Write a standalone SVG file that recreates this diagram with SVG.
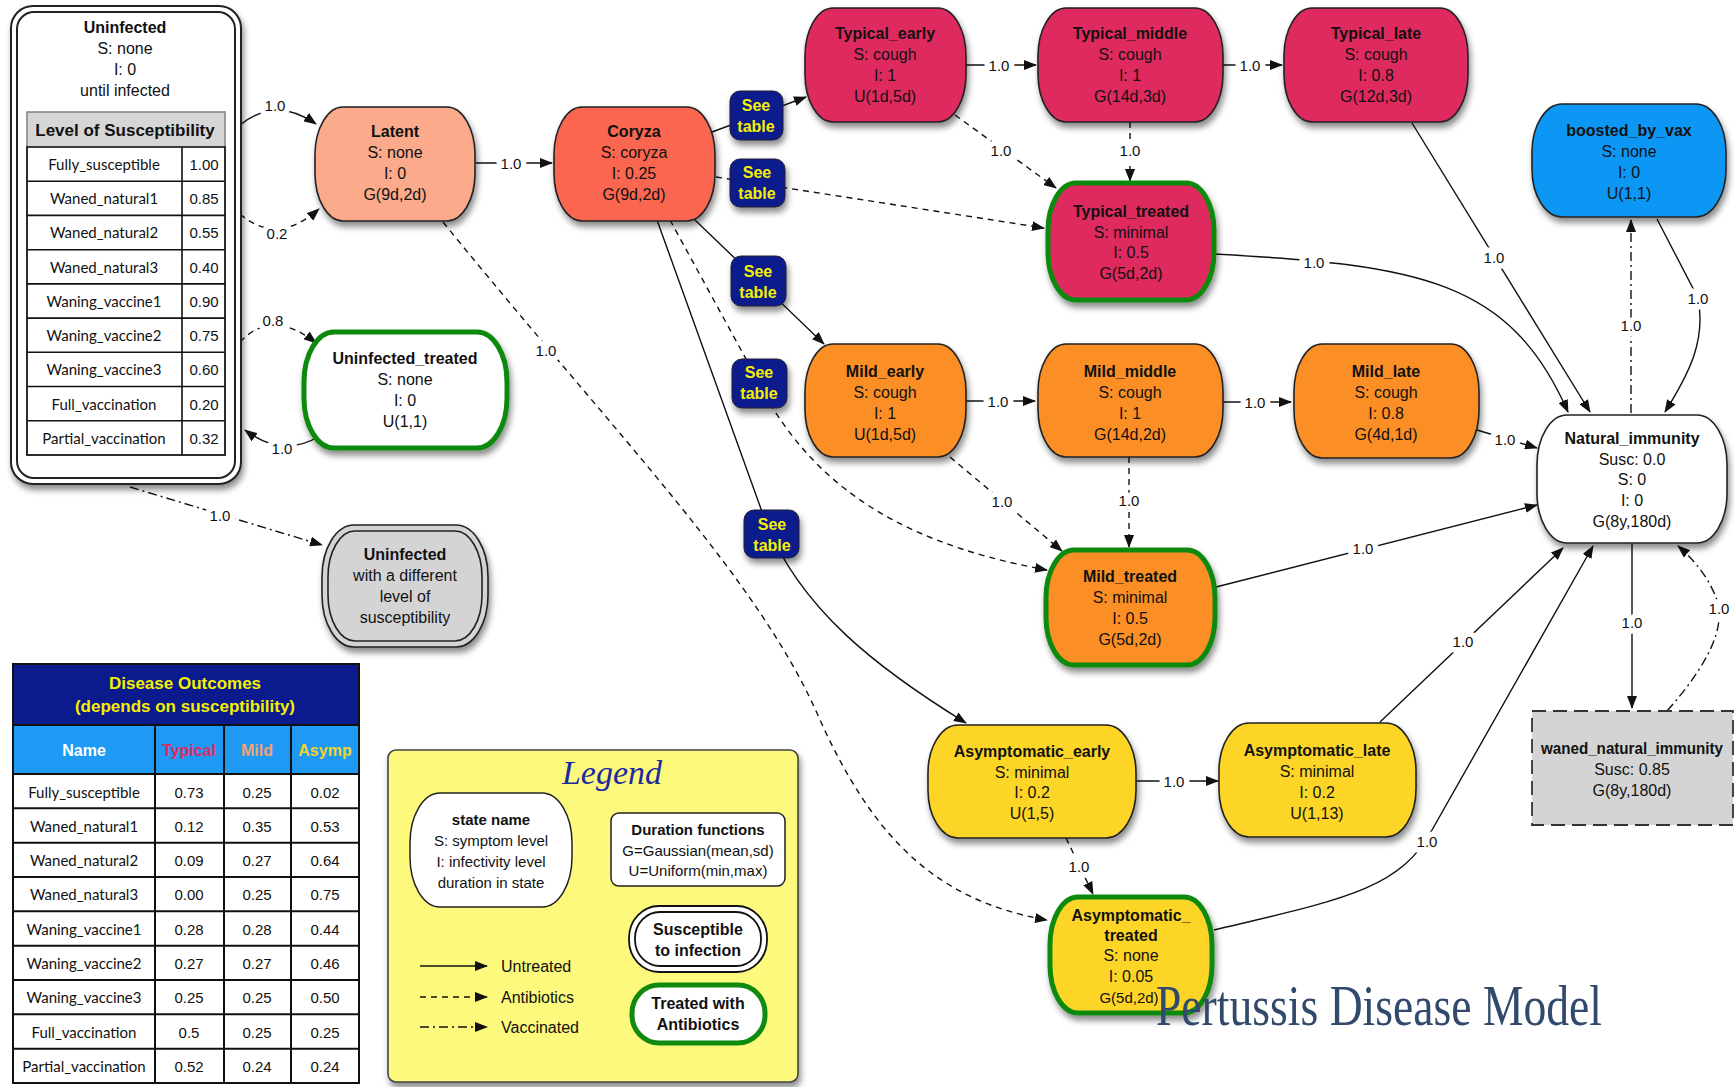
<svg xmlns="http://www.w3.org/2000/svg" width="1735" height="1087" viewBox="0 0 1735 1087">
<style>
text{font-family:"Liberation Sans",Arial,sans-serif;font-size:16px;fill:#111;text-anchor:middle;dominant-baseline:central}
.b{font-weight:bold}
.nd{stroke:#222;stroke-width:1.6}
.grn{stroke:#0f8a0f;stroke-width:5}
.e{fill:none;stroke:#111;stroke-width:1.4}
.d{stroke-dasharray:6 5}
.v{stroke-dasharray:9 4 2 4}
.lbl{font-size:15px;stroke:#fff;stroke-width:11px;paint-order:stroke;stroke-linejoin:round}
.st rect{fill:#0b1a8c;stroke:#223;stroke-width:1}
.st text{fill:#f5f000;font-weight:bold;font-size:16px}
.grid{fill:none;stroke:#111;stroke-width:1.6}
.tn{font-family:Lato,"Liberation Sans",sans-serif;font-size:15px}
.tv{font-size:15px}
</style>
<defs>
<marker id="ah" markerUnits="userSpaceOnUse" markerWidth="13" markerHeight="10" refX="12" refY="5" orient="auto">
<path d="M0,0 L13,5 L0,10 z" fill="#111"/>
</marker>
<filter id="sh" x="-15%" y="-15%" width="135%" height="145%">
<feDropShadow dx="2" dy="5" stdDeviation="3" flood-color="#000" flood-opacity="0.45"/>
</filter>
</defs>
<rect width="1735" height="1087" fill="#fff"/>

<!-- connectors -->
<g id="edges">
<path class="e" d="M240,125 Q276,96 316,124" marker-end="url(#ah)"/>
<path class="e d" d="M240,214 Q277,246 319,209" marker-end="url(#ah)"/>
<path class="e d" d="M240,342 Q272,308 316,343" marker-end="url(#ah)"/>
<path class="e" d="M318,437 Q282,458 245,430" marker-end="url(#ah)"/>
<path class="e v" d="M130,487 L322,545" marker-end="url(#ah)"/>
<path class="e" d="M476,163 L552,163" marker-end="url(#ah)"/>
<path class="e d" d="M443,222 C620,440 760,580 820,720 C870,830 930,900 1047,920" marker-end="url(#ah)"/>
<path class="e" d="M712,132 L806,97" marker-end="url(#ah)"/>
<path class="e d" d="M716,177 L1044,228" marker-end="url(#ah)"/>
<path class="e" d="M695,220 L824,344" marker-end="url(#ah)"/>
<path class="e d" d="M670,220 L752,370 C800,470 880,540 1047,570" marker-end="url(#ah)"/>
<path class="e" d="M657,220 L765,520 C800,610 880,670 966,723" marker-end="url(#ah)"/>
<path class="e" d="M966,65 L1036,65" marker-end="url(#ah)"/>
<path class="e" d="M1223,65 L1282,65" marker-end="url(#ah)"/>
<path class="e d" d="M955,115 L1056,188" marker-end="url(#ah)"/>
<path class="e d" d="M1130,122 L1130,181" marker-end="url(#ah)"/>
<path class="e" d="M1214,254 C1420,265 1510,280 1568,412" marker-end="url(#ah)"/>
<path class="e" d="M1412,123 L1590,412" marker-end="url(#ah)"/>
<path class="e" d="M966,401 L1035,401" marker-end="url(#ah)"/>
<path class="e" d="M1223,402 L1291,402" marker-end="url(#ah)"/>
<path class="e d" d="M950,457 L1062,551" marker-end="url(#ah)"/>
<path class="e d" d="M1129,457 L1129,547" marker-end="url(#ah)"/>
<path class="e" d="M1477,430 L1537,448" marker-end="url(#ah)"/>
<path class="e" d="M1216,587 L1537,505" marker-end="url(#ah)"/>
<path class="e" d="M1136,781 L1218,781" marker-end="url(#ah)"/>
<path class="e d" d="M1066,838 L1093,894" marker-end="url(#ah)"/>
<path class="e" d="M1380,722 L1563,548" marker-end="url(#ah)"/>
<path class="e" d="M1214,930 C1340,900 1400,890 1432,830 L1593,546" marker-end="url(#ah)"/>
<path class="e" d="M1632,543 L1632,708" marker-end="url(#ah)"/>
<path class="e v" d="M1667,711 Q1730,640 1717,600 Q1706,570 1678,546" marker-end="url(#ah)"/>
<path class="e v" d="M1631,413 L1631,220" marker-end="url(#ah)"/>
<path class="e" d="M1657,219 L1698,298 C1706,340 1690,372 1665,412" marker-end="url(#ah)"/>

<text class="lbl" x="275" y="105">1.0</text>
<text class="lbl" x="277" y="233">0.2</text>
<text class="lbl" x="273" y="320">0.8</text>
<text class="lbl" x="282" y="448">1.0</text>
<text class="lbl" x="220" y="515">1.0</text>
<text class="lbl" x="511" y="163">1.0</text>
<text class="lbl" x="546" y="350">1.0</text>
<text class="lbl" x="999" y="65">1.0</text>
<text class="lbl" x="1250" y="65">1.0</text>
<text class="lbl" x="1001" y="150">1.0</text>
<text class="lbl" x="1130" y="150">1.0</text>
<text class="lbl" x="1314" y="262">1.0</text>
<text class="lbl" x="1494" y="257">1.0</text>
<text class="lbl" x="998" y="401">1.0</text>
<text class="lbl" x="1255" y="402">1.0</text>
<text class="lbl" x="1002" y="501">1.0</text>
<text class="lbl" x="1129" y="500">1.0</text>
<text class="lbl" x="1505" y="439">1.0</text>
<text class="lbl" x="1363" y="548">1.0</text>
<text class="lbl" x="1174" y="781">1.0</text>
<text class="lbl" x="1079" y="866">1.0</text>
<text class="lbl" x="1463" y="641">1.0</text>
<text class="lbl" x="1427" y="841">1.0</text>
<text class="lbl" x="1632" y="622">1.0</text>
<text class="lbl" x="1719" y="608">1.0</text>
<text class="lbl" x="1631" y="325">1.0</text>
<text class="lbl" x="1698" y="298">1.0</text>
</g>

<!-- "See table" markers on the branching transitions -->
<g id="see_table_1" class="st"><rect x="730" y="91" width="53" height="49" rx="10" filter="url(#sh)"/><text x="756" y="105">See</text><text x="756" y="126">table</text></g>
<g id="see_table_2" class="st"><rect x="730" y="159" width="55" height="48" rx="10" filter="url(#sh)"/><text x="757" y="172">See</text><text x="757" y="193">table</text></g>
<g id="see_table_3" class="st"><rect x="731" y="256" width="55" height="50" rx="10" filter="url(#sh)"/><text x="758" y="271">See</text><text x="758" y="292">table</text></g>
<g id="see_table_4" class="st"><rect x="732" y="359" width="55" height="49" rx="10" filter="url(#sh)"/><text x="759" y="372">See</text><text x="759" y="393">table</text></g>
<g id="see_table_5" class="st"><rect x="744" y="510" width="55" height="48" rx="10" filter="url(#sh)"/><text x="772" y="524">See</text><text x="772" y="545">table</text></g>

<!-- Uninfected with susceptibility table -->
<g id="uninfected">
<rect x="11" y="6" width="230" height="478" rx="22" fill="#fff" stroke="#222" stroke-width="2" filter="url(#sh)"/>
<rect x="17" y="12" width="218" height="466" rx="17" fill="none" stroke="#222" stroke-width="2"/>
<text class="b" x="125" y="27">Uninfected</text>
<text x="125" y="48">S: none</text>
<text x="125" y="69">I: 0</text>
<text x="125" y="90">until infected</text>
<rect x="27" y="112" width="198" height="35" fill="#d6d6d6"/>
<text class="b" x="125" y="130" style="font-size:17px">Level of Susceptibility</text>
<g class="grid">
<rect x="27" y="112" width="198" height="343" style="stroke:#888"/>
<rect x="27" y="147" width="198" height="308"/>
<path d="M182,147 V455 M27,181.2 H225 M27,215.4 H225 M27,249.7 H225 M27,283.9 H225 M27,318.1 H225 M27,352.3 H225 M27,386.5 H225 M27,420.8 H225"/>
</g>
<text class="tn" x="104" y="164">Fully_susceptible</text>
<text class="tn" x="104" y="198">Waned_natural1</text>
<text class="tn" x="104" y="232">Waned_natural2</text>
<text class="tn" x="104" y="267">Waned_natural3</text>
<text class="tn" x="104" y="301">Waning_vaccine1</text>
<text class="tn" x="104" y="335">Waning_vaccine2</text>
<text class="tn" x="104" y="369">Waning_vaccine3</text>
<text class="tn" x="104" y="404">Full_vaccination</text>
<text class="tn" x="104" y="438">Partial_vaccination</text>
<text class="tv" x="204" y="164">1.00</text>
<text class="tv" x="204" y="198">0.85</text>
<text class="tv" x="204" y="232">0.55</text>
<text class="tv" x="204" y="267">0.40</text>
<text class="tv" x="204" y="301">0.90</text>
<text class="tv" x="204" y="335">0.75</text>
<text class="tv" x="204" y="369">0.60</text>
<text class="tv" x="204" y="404">0.20</text>
<text class="tv" x="204" y="438">0.32</text>
</g>

<g id="latent">
<rect class="nd" x="315" y="107" width="160" height="114" rx="28" ry="48" fill="#fbaa8c" filter="url(#sh)"/>
<text class="b" x="395" y="131">Latent</text><text x="395" y="152">S: none</text><text x="395" y="173">I: 0</text><text x="395" y="194">G(9d,2d)</text>
</g>
<g id="coryza">
<rect class="nd" x="554" y="107" width="161" height="114" rx="28" ry="48" fill="#fa6650" filter="url(#sh)"/>
<text class="b" x="634" y="131">Coryza</text><text x="634" y="152">S: coryza</text><text x="634" y="173">I: 0.25</text><text x="634" y="194">G(9d,2d)</text>
</g>
<g id="uninfected_treated">
<rect class="grn" x="304" y="332" width="203" height="116" rx="30" ry="50" fill="#fff" filter="url(#sh)"/>
<text class="b" x="405" y="358">Uninfected_treated</text><text x="405" y="379">S: none</text><text x="405" y="400">I: 0</text><text x="405" y="421">U(1,1)</text>
</g>
<g id="uninfected_other_level">
<rect x="322" y="525" width="166" height="122" rx="32" ry="52" fill="#d4d4d4" stroke="#222" stroke-width="1.6" filter="url(#sh)"/>
<rect x="328" y="531" width="154" height="110" rx="27" ry="46" fill="none" stroke="#222" stroke-width="1.6"/>
<text class="b" x="405" y="554">Uninfected</text><text x="405" y="575">with a different</text><text x="405" y="596">level of</text><text x="405" y="617">susceptibility</text>
</g>

<g id="typical_early">
<rect class="nd" x="805" y="8" width="161" height="114" rx="28" ry="48" fill="#df2a5e" filter="url(#sh)"/>
<text class="b" x="885" y="33">Typical_early</text><text x="885" y="54">S: cough</text><text x="885" y="75">I: 1</text><text x="885" y="96">U(1d,5d)</text>
</g>
<g id="typical_middle">
<rect class="nd" x="1038" y="8" width="185" height="114" rx="28" ry="48" fill="#df2a5e" filter="url(#sh)"/>
<text class="b" x="1130" y="33">Typical_middle</text><text x="1130" y="54">S: cough</text><text x="1130" y="75">I: 1</text><text x="1130" y="96">G(14d,3d)</text>
</g>
<g id="typical_late">
<rect class="nd" x="1284" y="8" width="184" height="114" rx="28" ry="48" fill="#df2a5e" filter="url(#sh)"/>
<text class="b" x="1376" y="33">Typical_late</text><text x="1376" y="54">S: cough</text><text x="1376" y="75">I: 0.8</text><text x="1376" y="96">G(12d,3d)</text>
</g>
<g id="typical_treated">
<rect class="grn" x="1048" y="183" width="166" height="117" rx="28" ry="48" fill="#df2a5e" filter="url(#sh)"/>
<text class="b" x="1131" y="211">Typical_treated</text><text x="1131" y="232">S: minimal</text><text x="1131" y="252">I: 0.5</text><text x="1131" y="273">G(5d,2d)</text>
</g>
<g id="boosted_by_vax">
<rect class="nd" x="1532" y="104" width="194" height="113" rx="30" ry="48" fill="#0a97f5" filter="url(#sh)"/>
<text class="b" x="1629" y="130">boosted_by_vax</text><text x="1629" y="151">S: none</text><text x="1629" y="172">I: 0</text><text x="1629" y="193">U(1,1)</text>
</g>

<g id="mild_early">
<rect class="nd" x="805" y="344" width="161" height="113" rx="28" ry="48" fill="#fb8f25" filter="url(#sh)"/>
<text class="b" x="885" y="371">Mild_early</text><text x="885" y="392">S: cough</text><text x="885" y="413">I: 1</text><text x="885" y="434">U(1d,5d)</text>
</g>
<g id="mild_middle">
<rect class="nd" x="1038" y="344" width="185" height="113" rx="28" ry="48" fill="#fb8f25" filter="url(#sh)"/>
<text class="b" x="1130" y="371">Mild_middle</text><text x="1130" y="392">S: cough</text><text x="1130" y="413">I: 1</text><text x="1130" y="434">G(14d,2d)</text>
</g>
<g id="mild_late">
<rect class="nd" x="1294" y="344" width="185" height="114" rx="28" ry="48" fill="#fb8f25" filter="url(#sh)"/>
<text class="b" x="1386" y="371">Mild_late</text><text x="1386" y="392">S: cough</text><text x="1386" y="413">I: 0.8</text><text x="1386" y="434">G(4d,1d)</text>
</g>
<g id="mild_treated">
<rect class="grn" x="1046" y="550" width="169" height="115" rx="28" ry="48" fill="#fb8f25" filter="url(#sh)"/>
<text class="b" x="1130" y="576">Mild_treated</text><text x="1130" y="597">S: minimal</text><text x="1130" y="618">I: 0.5</text><text x="1130" y="639">G(5d,2d)</text>
</g>

<g id="natural_immunity">
<rect class="nd" x="1537" y="415" width="190" height="128" rx="30" ry="50" fill="#fff" stroke-width="2" filter="url(#sh)"/>
<text class="b" x="1632" y="438">Natural_immunity</text><text x="1632" y="459">Susc: 0.0</text><text x="1632" y="479">S: 0</text><text x="1632" y="500">I: 0</text><text x="1632" y="521">G(8y,180d)</text>
</g>
<g id="waned_natural_immunity">
<rect x="1532" y="711" width="201" height="114" fill="#d4d4d4" stroke="#333" stroke-width="1.8" stroke-dasharray="14 7"/>
<text class="b" x="1632" y="748" textLength="182" lengthAdjust="spacingAndGlyphs">waned_natural_immunity</text><text x="1632" y="769">Susc: 0.85</text><text x="1632" y="790">G(8y,180d)</text>
</g>

<g id="asymptomatic_early">
<rect class="nd" x="928" y="725" width="208" height="113" rx="30" ry="48" fill="#fdd527" filter="url(#sh)"/>
<text class="b" x="1032" y="751">Asymptomatic_early</text><text x="1032" y="772">S: minimal</text><text x="1032" y="792">I: 0.2</text><text x="1032" y="813">U(1,5)</text>
</g>
<g id="asymptomatic_late">
<rect class="nd" x="1219" y="723" width="197" height="114" rx="30" ry="48" fill="#fdd527" filter="url(#sh)"/>
<text class="b" x="1317" y="750">Asymptomatic_late</text><text x="1317" y="771">S: minimal</text><text x="1317" y="792">I: 0.2</text><text x="1317" y="813">U(1,13)</text>
</g>
<g id="asymptomatic_treated">
<rect class="grn" x="1050" y="897" width="162" height="116" rx="28" ry="48" fill="#fdd527" filter="url(#sh)"/>
<text class="b" x="1131" y="915">Asymptomatic_</text><text class="b" x="1131" y="935">treated</text><text x="1131" y="955">S: none</text><text x="1131" y="976">I: 0.05</text><text x="1129" y="997" style="font-size:15px">G(5d,2d)</text>
</g>

<!-- outcome probabilities per susceptibility level -->
<g id="disease_outcomes">
<rect x="13" y="664" width="346" height="61" fill="#0b1a8c"/>
<rect x="13" y="725" width="346" height="49" fill="#1e9af5"/>
<rect x="13" y="774" width="346" height="309" fill="#fff"/>
<text class="b" x="185" y="683" style="fill:#f5f000;font-size:17px">Disease Outcomes</text>
<text class="b" x="185" y="706" style="fill:#f5f000;font-size:17px">(depends on susceptibility)</text>
<text class="b" x="84" y="750" style="fill:#fff">Name</text>
<text class="b" x="189" y="750" style="fill:#e0295d">Typical</text>
<text class="b" x="257" y="750" style="fill:#f6a070">Mild</text>
<text class="b" x="325" y="750" style="fill:#f3d22a">Asymp</text>
<g class="grid" style="stroke-width:2">
<rect x="13" y="664" width="346" height="419"/>
<path d="M13,725 H359 M13,774 H359 M155,725 V1083 M224,725 V1083 M291,725 V1083 M13,808.3 H359 M13,842.7 H359 M13,877 H359 M13,911.3 H359 M13,945.7 H359 M13,980 H359 M13,1014.3 H359 M13,1048.7 H359"/>
</g>
<text class="tn" x="84" y="792">Fully_susceptible</text>
<text class="tn" x="84" y="826">Waned_natural1</text>
<text class="tn" x="84" y="860">Waned_natural2</text>
<text class="tn" x="84" y="894">Waned_natural3</text>
<text class="tn" x="84" y="929">Waning_vaccine1</text>
<text class="tn" x="84" y="963">Waning_vaccine2</text>
<text class="tn" x="84" y="997">Waning_vaccine3</text>
<text class="tn" x="84" y="1032">Full_vaccination</text>
<text class="tn" x="84" y="1066">Partial_vaccination</text>
<text class="tv" x="189" y="792">0.73</text><text class="tv" x="257" y="792">0.25</text><text class="tv" x="325" y="792">0.02</text>
<text class="tv" x="189" y="826">0.12</text><text class="tv" x="257" y="826">0.35</text><text class="tv" x="325" y="826">0.53</text>
<text class="tv" x="189" y="860">0.09</text><text class="tv" x="257" y="860">0.27</text><text class="tv" x="325" y="860">0.64</text>
<text class="tv" x="189" y="894">0.00</text><text class="tv" x="257" y="894">0.25</text><text class="tv" x="325" y="894">0.75</text>
<text class="tv" x="189" y="929">0.28</text><text class="tv" x="257" y="929">0.28</text><text class="tv" x="325" y="929">0.44</text>
<text class="tv" x="189" y="963">0.27</text><text class="tv" x="257" y="963">0.27</text><text class="tv" x="325" y="963">0.46</text>
<text class="tv" x="189" y="997">0.25</text><text class="tv" x="257" y="997">0.25</text><text class="tv" x="325" y="997">0.50</text>
<text class="tv" x="189" y="1032">0.5</text><text class="tv" x="257" y="1032">0.25</text><text class="tv" x="325" y="1032">0.25</text>
<text class="tv" x="189" y="1066">0.52</text><text class="tv" x="257" y="1066">0.24</text><text class="tv" x="325" y="1066">0.24</text>
</g>

<!-- legend -->
<g id="legend">
<rect x="388" y="750" width="410" height="332" rx="8" fill="#fdf97b" stroke="#444" stroke-width="1.6" filter="url(#sh)"/>
<text x="612" y="772" style="font-family:'Liberation Serif',serif;font-style:italic;font-size:34px;fill:#1c2aa0">Legend</text>
<rect x="410" y="793" width="162" height="114" rx="30" ry="50" fill="#fff" stroke="#222" stroke-width="1.5"/>
<text class="b" x="491" y="819" style="font-size:15px">state name</text>
<text x="491" y="840" style="font-size:15px">S: symptom level</text>
<text x="491" y="861" style="font-size:15px">I: infectivity level</text>
<text x="491" y="882" style="font-size:15px">duration in state</text>
<rect x="611" y="813" width="174" height="73" rx="8" fill="#fff" stroke="#222" stroke-width="1.5"/>
<text class="b" x="698" y="829" style="font-size:15px">Duration functions</text>
<text x="698" y="850" style="font-size:15px">G=Gaussian(mean,sd)</text>
<text x="698" y="870" style="font-size:15px">U=Uniform(min,max)</text>
<rect x="629" y="906" width="138" height="66" rx="30" ry="32" fill="#fff" stroke="#111" stroke-width="1.8"/>
<rect x="635" y="912" width="126" height="54" rx="25" ry="26" fill="none" stroke="#111" stroke-width="1.8"/>
<text class="b" x="698" y="929">Susceptible</text>
<text class="b" x="698" y="950">to infection</text>
<rect class="grn" x="632" y="985" width="133" height="58" rx="27" ry="28" fill="#fff"/>
<text class="b" x="698" y="1003">Treated with</text>
<text class="b" x="698" y="1024">Antibiotics</text>
<path class="e" d="M420,966 L487,966" marker-end="url(#ah)"/>
<path class="e d" d="M420,997 L487,997" marker-end="url(#ah)"/>
<path class="e v" d="M420,1027 L487,1027" marker-end="url(#ah)"/>
<text x="501" y="966" style="text-anchor:start">Untreated</text>
<text x="501" y="997" style="text-anchor:start">Antibiotics</text>
<text x="501" y="1027" style="text-anchor:start">Vaccinated</text>
</g>

<text id="title" x="1156" y="1025" textLength="446" lengthAdjust="spacingAndGlyphs" style="font-family:'Liberation Serif','DejaVu Serif',serif;font-size:56px;fill:#31496a;text-anchor:start;dominant-baseline:alphabetic">Pertussis Disease Model</text>
</svg>
